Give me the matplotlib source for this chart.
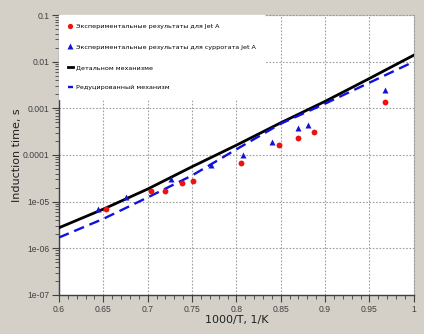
import numpy as np
import matplotlib.pyplot as plt
from matplotlib.ticker import FixedLocator, MultipleLocator, LogLocator, NullFormatter

# --- Data ---
x_jet = [0.653, 0.704, 0.720, 0.739, 0.751, 0.805, 0.848, 0.870, 0.887, 0.968]
tau_jet = [7.1e-6, 1.67e-5, 1.69e-5, 2.5e-5, 2.8e-5, 6.8e-5, 1.64e-4, 2.28e-4, 3.06e-4, 1.35e-3]

x_surr = [0.644, 0.676, 0.726, 0.771, 0.808, 0.840, 0.870, 0.881, 0.968]
tau_surr = [7.1e-6, 1.26e-5, 3.0e-5, 6.1e-5, 1.0e-4, 1.93e-4, 3.73e-4, 4.4e-4, 2.47e-3]

x_det = [0.6, 0.65, 0.7, 0.75, 0.8, 0.85, 0.9, 0.95, 1.0]
tau_det = [2.75e-6, 6.9e-6, 1.86e-5, 5.6e-5, 1.62e-4, 4.9e-4, 1.41e-3, 4.37e-3, 1.38e-2]

x_red = [0.6, 0.65, 0.7, 0.75, 0.8, 0.85, 0.9, 0.95, 1.0]
tau_red = [1.7e-6, 4.27e-6, 1.23e-5, 3.63e-5, 1.32e-4, 4.68e-4, 1.26e-3, 3.55e-3, 1.0e-2]

labels = ["Экспериментальные результаты для Jet A",
          "Экспериментальные результаты для суррогата Jet A",
          "Детальном механизме",
          "Редуцированный механизм"]

x_ticks = [0.6, 0.65, 0.7, 0.75, 0.8, 0.85, 0.9, 0.95, 1.0]
x_ticklabels = ["0.6", "0.65", "0.7", "0.75", "0.8", "0.85", "0.9", "0.95", "1"]
y_ticks = [1e-7, 1e-6, 1e-5, 1e-4, 1e-3, 1e-2, 1e-1]
y_ticklabels = ["1e-07", "1e-06", "1e-05", "0.0001", "0.001", "0.01", "0.1"]

# --- Plot ---
bg = "#d4d0c8"
fig = plt.figure(figsize=(4.24, 3.34), dpi=100, facecolor=bg)
ax = fig.add_axes([0.139, 0.117, 0.837, 0.838])
ax.set_facecolor("white")

ax.plot(x_det, tau_det, color="black", lw=2.0, label=labels[2], zorder=3)
ax.plot(x_red, tau_red, color="#1010e0", lw=1.7, ls=(0, (4.5, 2.5)), label=labels[3], zorder=3)
ax.plot(x_jet, tau_jet, "o", color="#f01010", ms=4.2, mec="none", label=labels[0], zorder=4)
ax.plot(x_surr, tau_surr, "^", color="#1515d0", ms=4.6, mec="none", label=labels[1], zorder=4)

ax.set_yscale("log")
ax.set_xlim(0.6, 1.0)
ax.set_ylim(1e-7, 0.1)

ax.xaxis.set_major_locator(FixedLocator(x_ticks))
ax.set_xticklabels(x_ticklabels)
ax.xaxis.set_minor_locator(MultipleLocator(0.01))
ax.yaxis.set_major_locator(FixedLocator(y_ticks))
ax.set_yticklabels(y_ticklabels)
ax.yaxis.set_minor_locator(LogLocator(base=10, subs=np.arange(2, 10), numticks=20))
ax.yaxis.set_minor_formatter(NullFormatter())

ax.tick_params(which="both", direction="out", color="#404040", labelcolor="#404040",
               labelsize=6.2, labelfontfamily="Liberation Sans", pad=2)
ax.tick_params(which="major", length=5)
ax.tick_params(which="minor", length=3)

ax.grid(True, which="major", color="#a0a0a0", ls=(0, (1.5, 1.5)), lw=0.8)
for side in ["top", "right"]:
    ax.spines[side].set_color("#a0a0a0")
    ax.spines[side].set_linestyle((0, (1.5, 1.5)))
    ax.spines[side].set_linewidth(0.8)
for side in ["left", "bottom"]:
    ax.spines[side].set_color("#404040")
    ax.spines[side].set_linewidth(1.0)

ax.set_xlabel("1000/T, 1/K", fontsize=8, color="#202020")
ax.set_ylabel("Induction time, s", fontsize=8, color="#202020")
ax.xaxis.set_label_coords(0.5, -0.072)
ax.yaxis.set_label_coords(-0.104, 0.5)

handles, lbls = ax.get_legend_handles_labels()
order = [2, 3, 0, 1]
leg = ax.legend([handles[i] for i in order], [lbls[i] for i in order],
                loc="upper left", fontsize=4.6, frameon=True, framealpha=1,
                edgecolor="white", fancybox=False, handlelength=0.8,
                handletextpad=0.4, labelspacing=2.3, borderpad=1.4,
                borderaxespad=0.0, markerscale=0.9)
leg.set_zorder(5)

fig.savefig("out.png", dpi=100, facecolor=bg)
